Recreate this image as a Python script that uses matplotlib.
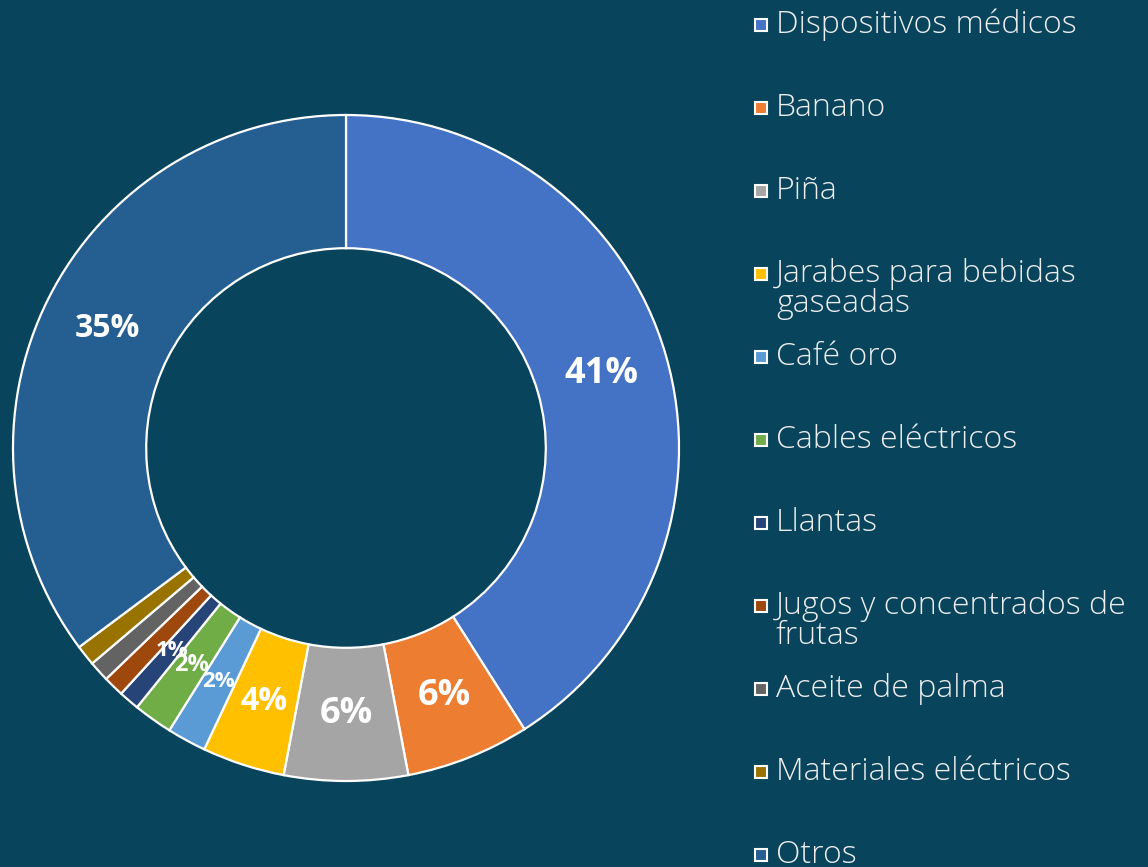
import matplotlib
matplotlib.use('Agg')
import matplotlib.pyplot as plt
from matplotlib.patches import Rectangle
import numpy as np

# data
categories = ['Dispositivos médicos', 'Banano', 'Piña', 'Jarabes para bebidas\ngaseadas',
              'Café oro', 'Cables eléctricos', 'Llantas', 'Jugos y concentrados de\nfrutas',
              'Aceite de palma', 'Materiales eléctricos', 'Otros']
shares = [41.0, 6.0, 6.0, 4.0, 1.9, 1.9, 1.0, 1.0, 1.0, 1.0, 35.2]
pct_labels = ['41%', '6%', '6%', '4%', '2%', '2%', '1%', '', '', '', '35%']
colors = ['#4472C4', '#ED7D31', '#A5A5A5', '#FFC000', '#5B9BD5', '#70AD47',
          '#264478', '#9E480E', '#636363', '#997300', '#255E91']
label_sizes = [26, 26, 26, 23, 16, 17, 16, 10, 10, 10, 23]

bg = '#08445C'
W, H = 1148, 867

fig = plt.figure(figsize=(W / 100, H / 100), dpi=100, facecolor=bg)

# donut, centre at (346, 448) px, outer radius 333 px
cx, cy, r = 346, 448, 333
ax = fig.add_axes([(cx - r) / W, (H - cy - r) / H, 2 * r / W, 2 * r / H])
ax.set_facecolor(bg)
wedges, _ = ax.pie(shares, colors=colors, startangle=90, counterclock=False, radius=1,
                   wedgeprops=dict(width=0.4, edgecolor='white', linewidth=1.6))
ax.set_xlim(-1, 1)
ax.set_ylim(-1, 1)
ax.set_aspect('equal')
ax.axis('off')

for w, lab, fs in zip(wedges, pct_labels, label_sizes):
    if not lab:
        continue
    ang = np.deg2rad((w.theta1 + w.theta2) / 2)
    ax.text(0.8 * np.cos(ang), 0.8 * np.sin(ang), lab, ha='center', va='center',
            color='white', fontsize=fs, fontweight='bold', family='Open Sans')

# legend, drawn by hand so the marker spacing stays even
y0, step, line_h = 25, 83, 30
for i, (name, col) in enumerate(zip(categories, colors)):
    y = y0 + i * step
    fig.patches.append(Rectangle((755 / W, (H - y - 6) / H), 12 / W, 12 / H,
                                 transform=fig.transFigure, facecolor=col,
                                 edgecolor='white', linewidth=1.5))
    for k, line in enumerate(name.split('\n')):
        fig.text(776 / W, (H - y - k * line_h) / H, line, ha='left', va='center',
                 color='#EDEDED', fontsize=23, family='Open Sans', fontweight='light')

fig.savefig('out.png', dpi=100, facecolor=bg)
